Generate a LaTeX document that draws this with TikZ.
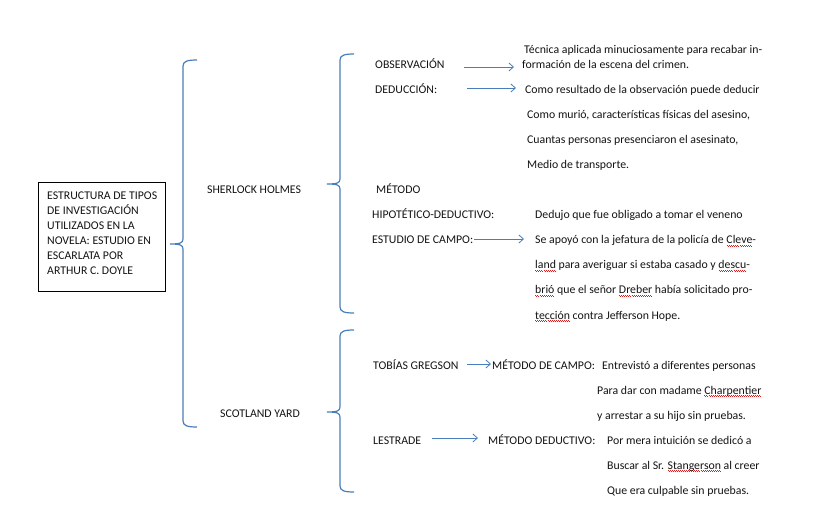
\documentclass[tikz,border=0pt]{standalone}
\usepackage{fontspec}
\setmainfont{Carlito}
\usetikzlibrary{arrows.meta}
\definecolor{officeblue}{RGB}{74,126,187}
\definecolor{txt}{RGB}{20,20,20}
\definecolor{sqred}{RGB}{220,30,30}
\newcommand\sqerr[1]{\setbox0\hbox{#1}\rlap{\raisebox{-2.4pt}{\textcolor{sqred}{\hbox to \wd0{\xleaders\hbox to 2pt{\raisebox{0.5pt}{\vrule width 1pt height 0.5pt depth 0pt}\vrule width 1pt height 0pt depth 0.5pt}\hfil}}}}#1}
\newcommand\drawbracket[4]{%
  \draw[brk] (#1+14,#2) .. controls (#1+5,#2) and (#1,#2+1) .. (#1,#2+6)
    -- (#1,#3-5) .. controls (#1,#3-1) and (#1-3,#3) .. (#1-13,#3)
    .. controls (#1-3,#3) and (#1,#3+1) .. (#1,#3+5)
    -- (#1,#4-6) .. controls (#1,#4-1) and (#1+5,#4) .. (#1+14,#4);}
\begin{document}
\begin{tikzpicture}[x=1pt,y=-1pt,
  lbl/.style={anchor=base west,inner sep=0pt,font=\fontsize{11.8}{14}\selectfont,text=txt},
  arr/.style={draw=officeblue,line width=0.8pt,-{Straight Barb[length=4.5pt,width=8pt,line width=0.8pt]}},
  brk/.style={draw=officeblue,line width=1.2pt},
  titlebox/.style={draw=black,line width=0.8pt,minimum width=127pt,minimum height=109pt,anchor=north west,inner sep=0pt}]
\useasboundingbox[fill=white] (0,0) rectangle (834,510);
% title box
\node[titlebox] (box) at (38,182) {};
\node[anchor=north west,inner sep=0pt,align=left,font=\fontsize{11.8}{15}\selectfont,text=txt] (title) at (47,191.5)
 {ESTRUCTURA DE TIPOS\\DE INVESTIGACIÓN\\UTILIZADOS EN LA\\NOVELA: ESTUDIO EN\\ESCARLATA POR\\ARTHUR C. DOYLE};
% brackets
\drawbracket{183}{60}{244}{427}
\drawbracket{340}{54}{184}{313}
\drawbracket{340}{330}{412}{492}
% level 1
\node[lbl] (sh) at (207,194) {SHERLOCK HOLMES};
\node[lbl] (sy) at (220,417) {SCOTLAND YARD};
% Sherlock Holmes
\node[lbl] (obs) at (375,69) {OBSERVACIÓN};
\node[lbl] (tec1) at (524,54) {Técnica aplicada minuciosamente para recabar in-};
\node[lbl] (tec2) at (522,69) {formación de la escena del crimen.};
\node[lbl] (ded) at (375,94) {DEDUCCIÓN:};
\node[lbl] (ded1) at (525,94) {Como resultado de la observación puede deducir};
\node[lbl] (ded2) at (527,119) {Como murió, características físicas del asesino,};
\node[lbl] (ded3) at (527,144) {Cuantas personas presenciaron el asesinato,};
\node[lbl] (ded4) at (527,169) {Medio de transporte.};
\node[lbl] (met) at (376,194) {MÉTODO};
\node[lbl] (hip) at (372,219) {HIPOTÉTICO-DEDUCTIVO:};
\node[lbl] (hip1) at (535,219) {Dedujo que fue obligado a tomar el veneno};
\node[lbl] (est) at (372,244) {ESTUDIO DE CAMPO:};
\node[lbl] (est1) at (535,244) {Se apoyó con la jefatura de la policía de \sqerr{Cleve}-};
\node[lbl] (est2) at (535,269) {\sqerr{land} para averiguar si estaba casado y \sqerr{descu}-};
\node[lbl] (est3) at (535,294) {\sqerr{brió} que el señor \sqerr{Dreber} había solicitado pro-};
\node[lbl] (est4) at (535,319) {\sqerr{tección} contra Jefferson Hope.};
% Scotland Yard
\node[lbl] (tob) at (373,369) {TOBÍAS GREGSON};
\node[lbl] (mc) at (492,369) {MÉTODO DE CAMPO:};
\node[lbl] (tob1) at (602,369) {Entrevistó a diferentes personas};
\node[lbl] (tob2) at (597,394) {Para dar con madame \sqerr{Charpentier}};
\node[lbl] (tob3) at (597,419) {y arrestar a su hijo sin pruebas.};
\node[lbl] (les) at (373,444) {LESTRADE};
\node[lbl] (md) at (488,444) {MÉTODO DEDUCTIVO:};
\node[lbl] (les1) at (607,444) {Por mera intuición se dedicó a};
\node[lbl] (les2) at (607,469) {Buscar al Sr. \sqerr{Stangerson} al creer};
\node[lbl] (les3) at (607,494) {Que era culpable sin pruebas.};
% arrows
\coordinate (a1s) at (464,67); \coordinate (a1e) at (514,67);
\draw[arr] (a1s) -- (a1e);
\coordinate (a2s) at (467,88); \coordinate (a2e) at (516,88);
\draw[arr] (a2s) -- (a2e);
\coordinate (a3s) at (474,239); \coordinate (a3e) at (524,239);
\draw[arr] (a3s) -- (a3e);
\coordinate (a4s) at (467,364); \coordinate (a4e) at (491,364);
\draw[arr] (a4s) -- (a4e);
\coordinate (a5s) at (432,438); \coordinate (a5e) at (478,438);
\draw[arr] (a5s) -- (a5e);
\end{tikzpicture}
\end{document}
